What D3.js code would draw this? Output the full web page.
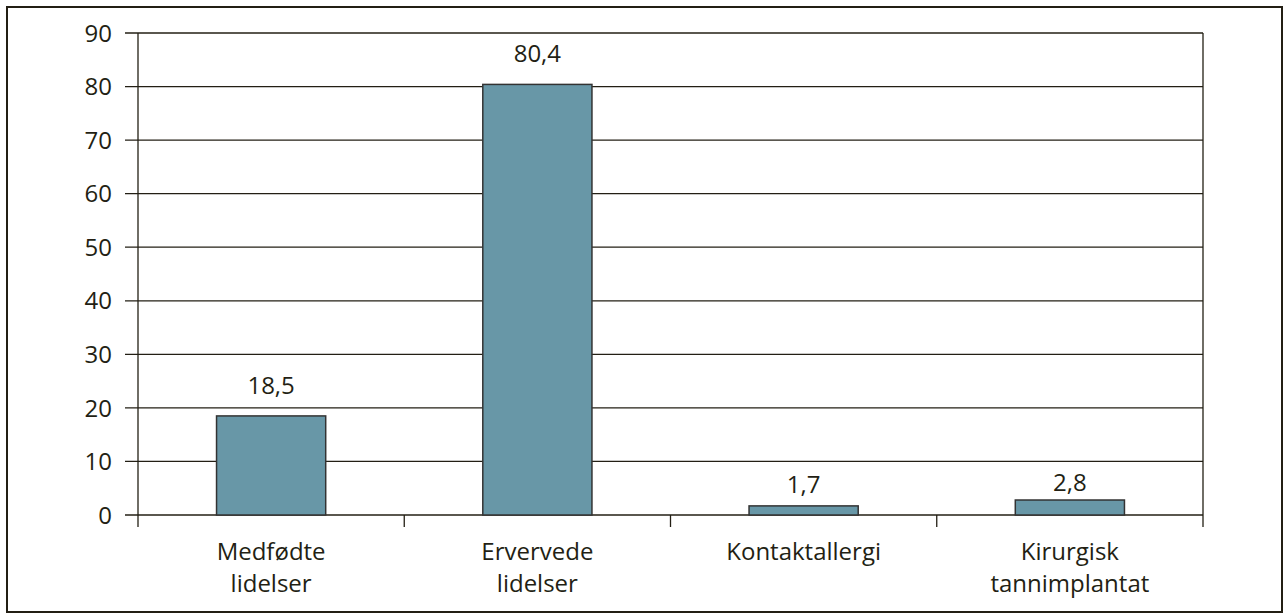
<!DOCTYPE html>
<html><head><meta charset="utf-8">
<script src="https://cdn.jsdelivr.net/npm/d3@7"></script>
<style>body{margin:0;background:#fff}svg{display:block}text{font-family:"Open Sans",sans-serif;fill:#231f14}</style>
</head><body>
<svg id="c" width="1284" height="615"></svg>
<script>
const categories = [["Medfødte","lidelser"],["Ervervede","lidelser"],["Kontaktallergi"],["Kirurgisk","tannimplantat"]];
const values = [18.5, 80.4, 1.7, 2.8];
const valueLabels = ["18,5","80,4","1,7","2,8"];
const yTicks = [0,10,20,30,40,50,60,70,80,90];

const svg = d3.select("#c");
const ink = "#231f14";
const fs = 24;
const labelGap = [22, 22, 13, 9];
svg.append("rect").attr("x",7).attr("y",7).attr("width",1275).attr("height",605)
  .attr("fill","none").attr("stroke",ink).attr("stroke-width",2);

const x0 = 138, x1 = 1203, yTop = 33, yBot = 515;
const x = d3.scaleBand().domain(d3.range(categories.length)).range([x0,x1]).paddingInner(0.59).paddingOuter(0.295);
const y = d3.scaleLinear().domain([0,90]).range([yBot,yTop]);

// gridlines
svg.append("g").selectAll("line").data(yTicks).join("line")
  .attr("x1",x0-13).attr("x2",x1).attr("y1",d=>y(d)).attr("y2",d=>y(d))
  .attr("stroke",ink).attr("stroke-width",1.3);

// y axis line
svg.append("line").attr("x1",x0).attr("x2",x0).attr("y1",yTop).attr("y2",yBot+12)
  .attr("stroke",ink).attr("stroke-width",1.3);
// right edge
svg.append("line").attr("x1",x1).attr("x2",x1).attr("y1",yTop).attr("y2",yBot+12)
  .attr("stroke",ink).attr("stroke-width",1.3);

// y labels
svg.append("g").selectAll("text").data(yTicks).join("text")
  .attr("x",x0-26).attr("y",d=>y(d)).attr("dy","0.36em").attr("text-anchor","end")
  .attr("font-size",fs).text(d=>d);

// category boundary ticks
svg.append("g").selectAll("line").data(d3.range(1,categories.length)).join("line")
  .attr("x1",d=>x0+d*(x1-x0)/categories.length).attr("x2",d=>x0+d*(x1-x0)/categories.length)
  .attr("y1",yBot).attr("y2",yBot+12).attr("stroke",ink).attr("stroke-width",1.3);

// bars
svg.append("g").selectAll("rect").data(values).join("rect")
  .attr("x",(d,i)=>x(i)).attr("width",x.bandwidth())
  .attr("y",d=>y(d)).attr("height",d=>yBot-y(d))
  .attr("fill","#6897a7").attr("stroke","#333").attr("stroke-width",1.5);

// value labels
svg.append("g").selectAll("text").data(values).join("text")
  .attr("x",(d,i)=>x(i)+x.bandwidth()/2).attr("y",(d,i)=>y(d)-labelGap[i])
  .attr("text-anchor","middle").attr("font-size",fs).text((d,i)=>valueLabels[i]);

// category labels
const cl = svg.append("g").selectAll("text").data(categories).join("text")
  .attr("text-anchor","middle").attr("font-size",fs)
  .attr("x",(d,i)=>x(i)+x.bandwidth()/2).attr("y",560);
cl.selectAll("tspan").data(d=>d).join("tspan")
  .attr("x",function(){return this.parentNode.getAttribute("x");})
  .attr("dy",(d,i)=>i===0?0:32).text(d=>d);
</script>
</body></html>
